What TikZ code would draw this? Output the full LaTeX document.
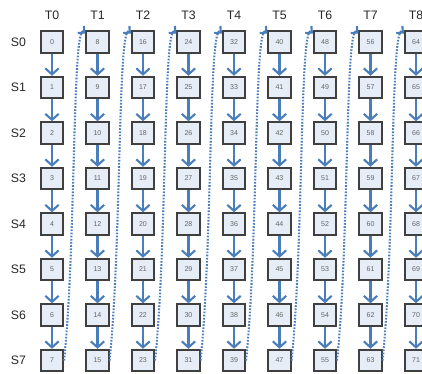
\documentclass[tikz,border=0pt]{standalone}
\usepackage{fontspec}
\setsansfont{Liberation Sans}
\usepackage{tikz}
\usetikzlibrary{arrows.meta, positioning}
\definecolor{cellbg}{RGB}{230,237,246}
\definecolor{flowblue}{RGB}{74,126,187}

\begin{document}
\begin{tikzpicture}[
    cell/.style={rectangle, draw=black!75, line width=1.5pt, fill=cellbg, minimum width=0.67cm, minimum height=0.65cm, inner sep=0pt, font=\sffamily\fontsize{6}{7}\selectfont, text=black!60},
    label/.style={font=\sffamily\fontsize{10.5}{12}\selectfont, text=black!85},
    arrow/.style={-{Straight Barb[length=1.8mm, width=4mm]}, line width=1.8pt, flowblue},
    jump/.style={-{Straight Barb[length=1.4mm, width=2.8mm]}, line width=1.8pt, flowblue, dash pattern=on 1.4pt off 1.3pt}
]
    \useasboundingbox (0,0) rectangle (12.66,-11.22);
    \clip (0,0) rectangle (12.66,-11.22);

    % Column and row labels
    \foreach \c in {0,...,8}
        \node[label] (t\c) at (1.56+1.365*\c,-0.47) {T\c};
    \foreach \r in {0,...,7}
        \node[label] (s\r) at (0.55,-1.26-1.365*\r) {S\r};

    % Cells
    \foreach \c in {0,...,8} {
        \foreach \r in {0,...,7} {
            \pgfmathtruncatemacro{\num}{8*\c+\r}
            \node[cell] (b\c-\r) at (1.56+1.365*\c,-1.26-1.365*\r) {\num};
        }
    }

    % Arrows down each column
    \foreach \c in {0,...,8} {
        \foreach \r [evaluate=\r as \s using int(\r+1)] in {0,...,6}
            \draw[arrow] (b\c-\r.south) -- (b\c-\s.north);
    }

    % Jumps from column bottom to next column top
    \foreach \c [evaluate=\c as \d using int(\c+1)] in {0,...,7}
        \draw[jump] (b\c-7.east) .. controls +(0.36,3.4) and +(-0.4,0.35) .. (b\d-0.145);
\end{tikzpicture}
\end{document}
